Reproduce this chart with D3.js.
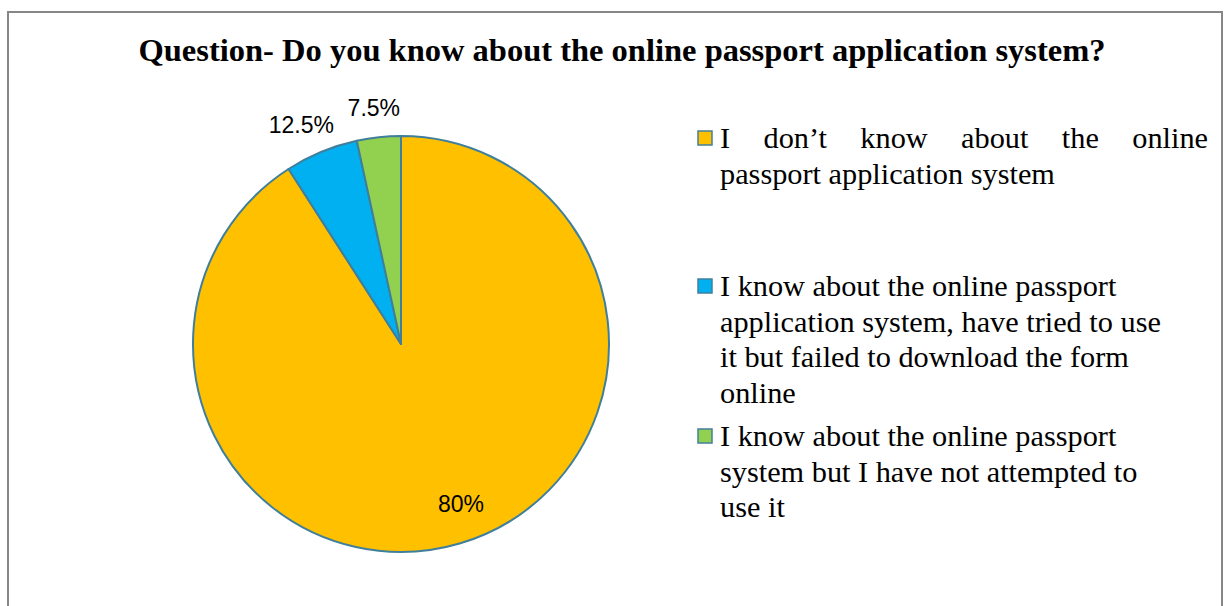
<!DOCTYPE html>
<html>
<head>
<meta charset="utf-8">
<script src="https://cdn.jsdelivr.net/npm/d3@7"></script>
<style>
  html,body{margin:0;padding:0;background:#fff;}
  svg{display:block;}
</style>
</head>
<body>
<svg id="chart" width="1226" height="606"></svg>
<script>
/* ---------- data ---------- */
const title = "Question- Do you know about the online passport application system?";
const categories = [
  "I don’t know about the online passport application system",
  "I know about the online passport application system, have tried to use it but failed to download the form online",
  "I know about the online passport system but I have not attempted to use it"
];
const values = [80, 5, 3];                 // slice sizes as drawn
const labels = ["80%", "12.5%", "7.5%"];   // labels as printed
const colors = ["#FFC000", "#00B0F0", "#92D050"];
// legend line breaks as in the picture
const legendLines = [
  ["I don’t know about the online", "passport application  system"],
  ["I know about the online passport", "application system, have tried to use", "it but failed to download the form", "online"],
  ["I know about the online passport", "system but I have not attempted to", "use it"]
];

/* ---------- layout ---------- */
const svg = d3.select("#chart");
const cx = 401, cy = 344, R = 208;

// outer frame
svg.append("rect").attr("x", 8).attr("y", 12).attr("width", 1214).attr("height", 620)
   .attr("fill", "#fff").attr("stroke", "#868686").attr("stroke-width", 2);

svg.append("text").attr("x", 622).attr("y", 61).attr("text-anchor", "middle")
   .attr("font-family", "Liberation Serif, Times New Roman, serif")
   .attr("font-weight", "bold").attr("font-size", 32.5).attr("fill", "#000")
   .text(title);

/* ---------- pie ---------- */
const pie = d3.pie().sort(null).value(d => d)(values);
const arc = d3.arc().innerRadius(0).outerRadius(R);
const g = svg.append("g").attr("transform", `translate(${cx},${cy})`);

g.selectAll("path").data(pie).join("path")
  .attr("d", arc).attr("fill", (d, i) => colors[i])
  .attr("stroke", "#3F7F9B").attr("stroke-width", 2).attr("stroke-linejoin", "round");

const inLab = d3.arc().innerRadius(R * 0.82).outerRadius(R * 0.82);
const outLab = d3.arc().innerRadius(R + 20).outerRadius(R + 20);
const labs = g.selectAll("text.lab").data(pie).join("text").attr("class", "lab")
  .attr("text-anchor", "middle").attr("dy", "0.35em")
  .attr("font-family", "Liberation Sans, Arial, sans-serif")
  .attr("font-size", 23).attr("fill", "#000")
  .text((d, i) => labels[i]);
labs.attr("transform", function(d, i) {
  if (i === 0) {
    const [x, y] = inLab.centroid(d);
    return `translate(${x + 12},${y - 4})`;
  }
  // outside end: push the box away from the pie
  const [x, y] = outLab.centroid(d);
  const a = (d.startAngle + d.endAngle) / 2;
  const w = this.getComputedTextLength();
  return `translate(${x + Math.sin(a) * w / 2},${y - Math.cos(a) * 9})`;
});

/* ---------- legend ---------- */
const legX = 720, legRight = 1208, lineH = 35.5, fs = 30.3;
const startY = [148, 296, 446];
const leg = svg.append("g").attr("font-family", "Liberation Serif, Times New Roman, serif")
  .attr("font-size", fs).attr("fill", "#000").style("white-space", "pre");

legendLines.forEach((lines, i) => {
  leg.append("rect").attr("x", 698).attr("y", startY[i] - 17).attr("width", 14).attr("height", 14)
     .attr("fill", colors[i]).attr("stroke", "#41809C").attr("stroke-width", 1.5);
  lines.forEach((ln, j) => {
    const y = startY[i] + j * lineH;
    if (i === 0 && j === 0) {
      // justified first line
      const words = ln.split(" ");
      const ws = words.map(w => {
        const n = leg.append("text").text(w);
        const wd = n.node().getComputedTextLength(); n.remove(); return wd;
      });
      const gap = (legRight - legX - d3.sum(ws)) / (words.length - 1);
      let x = legX;
      words.forEach((w, k) => {
        leg.append("text").attr("x", x).attr("y", y).text(w);
        x += ws[k] + gap;
      });
    } else {
      leg.append("text").attr("x", legX).attr("y", y).text(ln);
    }
  });
});
</script>
</body>
</html>
